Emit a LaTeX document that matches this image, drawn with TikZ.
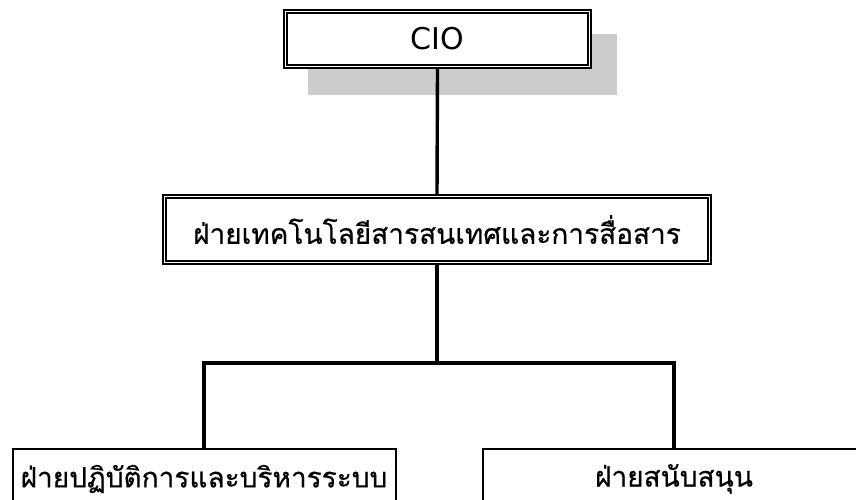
\documentclass[tikz,border=0pt]{standalone}
\usepackage{fontspec}
\newfontfamily\thaifont[Script=Thai,FakeBold=0.5]{Loma}
\newfontfamily\latinfont{DejaVu Sans}
\definecolor{shadowgray}{HTML}{CCCCCC}
\begin{document}
\begin{tikzpicture}[x=1pt,y=1pt,
  dbox/.style={draw, double, line width=1.6pt, double distance=1.4pt, fill=white, inner sep=0pt, outer sep=2.3pt},
  sbox/.style={draw, line width=2pt, fill=white, inner sep=0pt, outer sep=1pt},
  conn/.style={line width=3.4pt},
  thaitext/.style={font=\thaifont\fontsize{28}{33}\selectfont}]
\useasboundingbox (0,0) rectangle (856,500);
\clip (0,0) rectangle (856,500);
% CIO shadow
\fill[shadowgray] (308,405) rectangle (617,466);
\node[dbox, minimum width=304pt, minimum height=55pt, font=\latinfont\fontsize{30}{34}\selectfont] (cio) at (437.5,461) {CIO};
\node[dbox, thaitext, minimum width=545pt, minimum height=66pt] (mid) at (437,270.5) {ฝ่ายเทคโนโลยีสารสนเทศและการสื่อสาร};
\node[sbox, thaitext, minimum width=383pt, minimum height=60pt] (left) at (204,21) {ฝ่ายปฏิบัติการและบริหารระบบ};
\node[sbox, thaitext, minimum width=383pt, minimum height=60pt] (right) at (674,21) {ฝ่ายสนับสนุน};
\coordinate (bus) at (437,137);
\draw[conn] (cio.south) -- (mid.north);
\draw[conn] (mid.south) -- (bus);
\draw[conn] (left.north) |- (bus) -| (right.north);
\end{tikzpicture}
\end{document}
